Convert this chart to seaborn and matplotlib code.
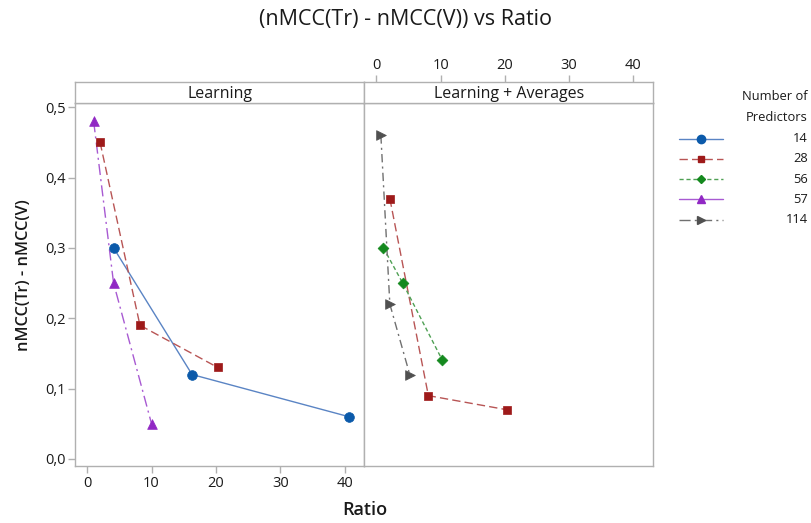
import matplotlib.pyplot as plt
import matplotlib.ticker as mticker
import pandas as pd
import seaborn as sns

# Values.
panels = ["Learning", "Learning + Averages"]
learn_14_x = [4.1, 16.3, 40.7]
learn_14_y = [0.30, 0.12, 0.06]
learn_28_x = [2.0, 8.2, 20.3]
learn_28_y = [0.45, 0.19, 0.13]
learn_57_x = [1.0, 4.1, 10.0]
learn_57_y = [0.48, 0.25, 0.05]
avg_28_x = [2.1, 8.1, 20.3]
avg_28_y = [0.37, 0.09, 0.07]
avg_56_x = [1.1, 4.1, 10.3]
avg_56_y = [0.30, 0.25, 0.14]
avg_114_x = [0.7, 2.1, 5.2]
avg_114_y = [0.46, 0.22, 0.12]
predictors = ["14", "28", "56", "57", "114"]

rows = []
for panel, pred, xs, ys in [
    (panels[0], "14", learn_14_x, learn_14_y),
    (panels[0], "28", learn_28_x, learn_28_y),
    (panels[0], "57", learn_57_x, learn_57_y),
    (panels[1], "28", avg_28_x, avg_28_y),
    (panels[1], "56", avg_56_x, avg_56_y),
    (panels[1], "114", avg_114_x, avg_114_y),
]:
    for x, y in zip(xs, ys):
        rows.append({"panel": panel, "Predictors": pred, "Ratio": x, "diff": y})
df = pd.DataFrame(rows)

palette = {"14": "#0B5AAA", "28": "#9E1A1A", "56": "#14891E",
           "57": "#9128C4", "114": "#505050"}
line_colors = {"14": "#5A84C4", "28": "#B85555", "56": "#4FA054",
               "57": "#A85AD2", "114": "#707070"}
markers = {"14": "o", "28": "s", "56": "D", "57": "^", "114": ">"}
dashes = {"14": "", "28": (6, 3), "56": (3, 2), "57": (8, 3, 1.5, 3),
          "114": (6, 3, 1.5, 3)}
legend_dashes = {"14": "", "28": (6, 3), "56": (3, 2), "57": "",
                 "114": (8, 3, 1.5, 3)}
msize = {"14": 7, "28": 5.8, "56": 5.5, "57": 7, "114": 7}

sns.set_style("white")
plt.rcParams["font.family"] = ["Open Sans", "DejaVu Sans"]
frame = "#B0B0B0"
txt = "#1A1A1A"

fig = plt.figure(figsize=(8.12, 5.23), dpi=100)
L, M, R = 75.3 / 812, 364.5 / 812, 653 / 812
B, T, ST = 1 - 466 / 523, 1 - 103.3 / 523, 1 - 82.3 / 523
ax1 = fig.add_axes([L, B, M - L, T - B])
ax2 = fig.add_axes([M, B, R - M, T - B], sharey=ax1)
s1 = fig.add_axes([L, T, M - L, ST - T])
s2 = fig.add_axes([M, T, R - M, ST - T])

for ax, panel in zip([ax1, ax2], panels):
    sub = df[df["panel"] == panel]
    for pred in predictors:
        d = sub[sub["Predictors"] == pred]
        if d.empty:
            continue
        sns.lineplot(data=d, x="Ratio", y="diff", ax=ax, sort=False,
                     color=line_colors[pred], lw=1.0, legend=False)
        ln = ax.lines[-1]
        if dashes[pred]:
            ln.set_dashes(dashes[pred])
        sns.scatterplot(data=d, x="Ratio", y="diff", ax=ax,
                        marker=markers[pred], color=palette[pred],
                        s=msize[pred] ** 2, edgecolor=palette[pred],
                        linewidth=0.5, legend=False, zorder=3)
    ax.set_xlim(-1.85, 43.1)
    ax.set_ylim(-0.01, 0.5055)
    ax.set_xlabel("")
    ax.set_ylabel("")

for ax in [ax1, ax2, s1, s2]:
    for sp in ax.spines.values():
        sp.set_color(frame)
        sp.set_linewidth(1.0)

fmt = mticker.FuncFormatter(lambda v, p: f"{v:.1f}".replace(".", ","))
ax1.yaxis.set_major_locator(mticker.MultipleLocator(0.1))
ax1.yaxis.set_major_formatter(fmt)
ax1.xaxis.set_major_locator(mticker.MultipleLocator(10))
ax1.tick_params(axis="both", direction="out", length=5, width=1,
                color=frame, labelcolor=txt, labelsize=10.5, pad=2,
                left=True, bottom=True)
ax2.tick_params(axis="both", left=False, bottom=False,
                labelleft=False, labelbottom=False)

s1.set_xticks([])
s1.set_yticks([])
s2.set_xlim(-1.85, 43.1)
s2.set_yticks([])
s2.xaxis.set_major_locator(mticker.MultipleLocator(10))
s2.xaxis.tick_top()
s2.tick_params(axis="x", direction="out", length=5, width=1, color=frame,
               labelcolor=txt, labelsize=10.5, pad=2)
for s, panel in zip([s1, s2], panels):
    s.text(0.5, 0.45, panel, transform=s.transAxes, ha="center",
           va="center", fontsize=11.5, color=txt)

fig.text(0.5, 0.962, "(nMCC(Tr) - nMCC(V)) vs Ratio", ha="center",
         va="center", fontsize=15.5, color=txt)
fig.text(0.03, 0.474, "nMCC(Tr) - nMCC(V)", rotation=90, ha="center",
         va="center", fontsize=11.8, color=txt, fontweight="semibold")
fig.text(0.449, 0.025, "Ratio", ha="center", va="center", fontsize=13,
         color=txt, fontweight="semibold")

# Legend: handles from matplotlib, labels right-aligned like the reference.
handles = []
for pred in predictors:
    h = plt.Line2D([], [], color=line_colors[pred], lw=1.0,
                   marker=markers[pred], markersize=msize[pred] - 1,
                   markerfacecolor=palette[pred], markeredgecolor=palette[pred])
    if legend_dashes[pred]:
        h.set_dashes(legend_dashes[pred])
    handles.append(h)
leg = fig.legend(handles, [""] * len(predictors), loc="upper left",
                 bbox_to_anchor=(0.836, 0.7455), frameon=False, fontsize=9.3,
                 handlelength=3.4, labelspacing=0.56, handletextpad=0,
                 borderaxespad=0, borderpad=0)
fig.text(0.995, 0.7954, "Number of\nPredictors", ha="right", va="center",
         multialignment="right", fontsize=9.3, color=txt, linespacing=1.75)
fig.canvas.draw()
inv = fig.transFigure.inverted()
for h, pred in zip(leg.legend_handles, predictors):
    bb = h.get_window_extent(fig.canvas.get_renderer())
    yc = inv.transform((0, (bb.y0 + bb.y1) / 2))[1]
    fig.text(0.995, yc, pred, ha="right", va="center", fontsize=9.3,
             color=txt)

fig.savefig("out.png", dpi=100)
